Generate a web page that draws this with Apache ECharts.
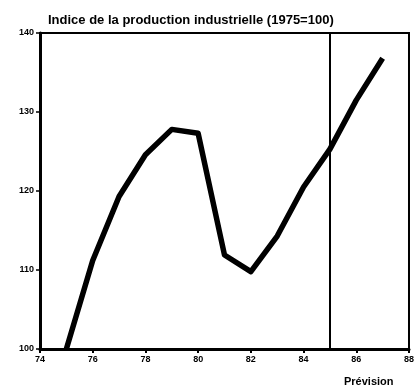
<!DOCTYPE html>
<html>
<head>
<meta charset="utf-8">
<script src="https://cdn.jsdelivr.net/npm/echarts@6/dist/echarts.min.js"></script>
<style>
  html, body { margin: 0; padding: 0; background: #fff; }
  #chart { width: 417px; height: 389px; }
</style>
</head>
<body>
<div id="chart"></div>
<script>
// indice de la production industrielle, base 1975 = 100
const years = [75, 76, 77, 78, 79, 80, 81, 82, 83, 84, 85, 86, 87];
const indexValues = [100, 111.2, 119.3, 124.6, 127.8, 127.3, 111.9, 109.8, 114.3, 120.5, 125.3, 131.5, 136.8];
const forecastFrom = 85;
const xTicks = [74, 76, 78, 80, 82, 84, 86, 88];
const yTicks = [100, 110, 120, 130, 140];

const font = '"Liberation Sans", Arial, sans-serif';

let chart = echarts.init(document.getElementById('chart'));

let points = years.map((y, i) => [y, indexValues[i]]);

let option = {
    animation: false,
    backgroundColor: '#fff',
    title: {
        text: 'Indice de la production industrielle (1975=100)',
        left: 43,
        top: 9,
        textStyle: {fontFamily: font, fontSize: 13, fontWeight: 'bold', color: '#000'}
    },
    grid: {
        left: 40, right: 8, top: 33, bottom: 40,
        show: true, borderColor: '#000', borderWidth: 2
    },
    xAxis: {
        type: 'value',
        min: xTicks[0],
        max: xTicks[xTicks.length - 1],
        interval: 2,
        axisLine: {lineStyle: {color: '#000', width: 3}},
        axisTick: {length: 4, lineStyle: {color: '#000', width: 2}},
        axisLabel: {
            margin: 6, fontFamily: font, fontSize: 9, fontWeight: 'bold', color: '#000',
            formatter: v => String(v)
        },
        splitLine: {show: false}
    },
    yAxis: {
        type: 'value',
        min: yTicks[0],
        max: yTicks[yTicks.length - 1],
        interval: 10,
        axisLine: {show: true, lineStyle: {color: '#000', width: 3}},
        axisTick: {show: true, length: 4, lineStyle: {color: '#000', width: 1.5}},
        axisLabel: {
            margin: 6, fontFamily: font, fontSize: 9, fontWeight: 'bold', color: '#000'
        },
        splitLine: {show: false}
    },
    graphic: [{
        type: 'text',
        left: 344,
        top: 376,
        style: {text: 'Prévision', font: 'bold 11px ' + font, fill: '#000'}
    }],
    series: [{
        type: 'line',
        data: points,
        symbol: 'none',
        lineStyle: {color: '#000', width: 5.5, join: 'round'},
        markLine: {
            silent: true,
            symbol: 'none',
            label: {show: false},
            lineStyle: {color: '#000', width: 2, type: 'solid'},
            data: [{xAxis: forecastFrom}]
        }
    }]
};

chart.setOption(option);
window.onresize = function () {
    chart.resize();
};
</script>
</body>
</html>
